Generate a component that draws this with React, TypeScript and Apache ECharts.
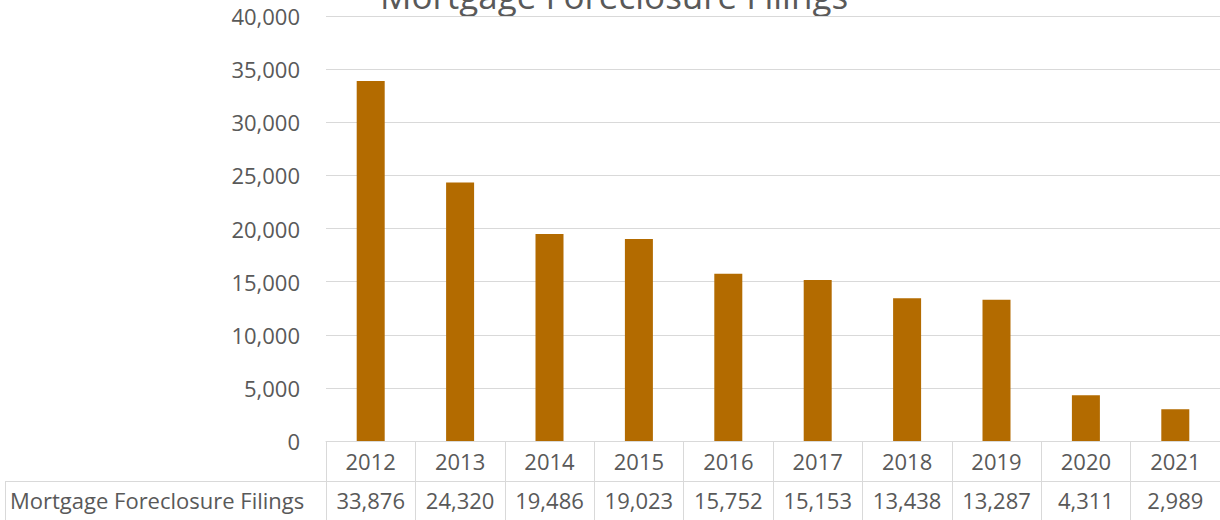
import React, { useEffect, useRef } from "react";
import * as echarts from "echarts";

const TITLE = "Mortgage Foreclosure Filings";
const SERIES_NAME = "Mortgage Foreclosure Filings";
const YEARS = ["2012", "2013", "2014", "2015", "2016", "2017", "2018", "2019", "2020", "2021"];
const FILINGS = [33876, 24320, 19486, 19023, 15752, 15153, 13438, 13287, 4311, 2989];
const Y_MIN = 0;
const Y_MAX = 40000;
const Y_STEP = 5000;

const TEXT = "#595959";
const GRID = "#d9d9d9";
const BAR = "#b36b00";
const FONT = "'Open Sans', 'Noto Sans', sans-serif";

const fmt = (v: number) => v.toLocaleString("en-US");

export default function App() {
  const ref = useRef<HTMLDivElement>(null);
  useEffect(() => {
    if (!ref.current) return;
    const chart = echarts.init(ref.current, undefined, { renderer: "svg" });
    const option = {
      animation: false,
      backgroundColor: "#ffffff",
      textStyle: { fontFamily: FONT },
      grid: { left: 326, right: 0, top: 16, bottom: 79, containLabel: false },
      xAxis: [
        {
          type: "category",
          data: YEARS,
          position: "bottom",
          boundaryGap: true,
          axisLine: { show: true, lineStyle: { color: GRID, width: 1 } },
          axisTick: { show: true, interval: 0, length: 80, lineStyle: { color: GRID, width: 1 } },
          axisLabel: {
            interval: 0,
            color: TEXT,
            fontSize: 22,
            fontFamily: FONT,
            margin: 20,
            verticalAlign: "middle",
          },
          splitLine: { show: false },
        },
        {
          type: "category",
          data: FILINGS.map(fmt),
          position: "bottom",
          offset: 40,
          boundaryGap: true,
          axisLine: { show: true, lineStyle: { color: GRID, width: 1 } },
          axisTick: { show: false },
          axisLabel: {
            interval: 0,
            color: TEXT,
            fontSize: 22,
            fontFamily: FONT,
            margin: 19,
            verticalAlign: "middle",
          },
          splitLine: { show: false },
        },
      ],
      yAxis: {
        type: "value",
        min: Y_MIN,
        max: Y_MAX,
        interval: Y_STEP,
        axisLine: { show: false },
        axisTick: { show: false },
        axisLabel: {
          color: TEXT,
          fontSize: 22,
          fontFamily: FONT,
          margin: 26,
          formatter: (v: number) => fmt(v),
        },
        splitLine: { show: true, lineStyle: { color: GRID, width: 1 } },
      },
      series: [
        {
          name: SERIES_NAME,
          type: "bar",
          xAxisIndex: 0,
          data: FILINGS,
          barWidth: 28,
          itemStyle: { color: BAR },
        },
      ],
      graphic: [
        {
          type: "text",
          x: 614,
          y: -5,
          style: {
            text: TITLE,
            fill: TEXT,
            font: `35px ${FONT}`,
            align: "center",
            verticalAlign: "middle",
          },
        },
        {
          type: "line",
          shape: { x1: 5, y1: 481.5, x2: 326, y2: 481.5 },
          style: { stroke: GRID, lineWidth: 1 },
        },
        {
          type: "line",
          shape: { x1: 5.5, y1: 481, x2: 5.5, y2: 520 },
          style: { stroke: GRID, lineWidth: 1 },
        },
        {
          type: "text",
          x: 10,
          y: 500,
          style: {
            text: SERIES_NAME,
            fill: TEXT,
            font: `22px ${FONT}`,
            align: "left",
            verticalAlign: "middle",
          },
        },
      ],
    };
    chart.setOption(option as any);
    return () => chart.dispose();
  }, []);
  return (
    <div
      ref={ref}
      style={{ position: "fixed", left: 0, top: 0, width: 1220, height: 520, background: "#fff" }}
    />
  );
}
